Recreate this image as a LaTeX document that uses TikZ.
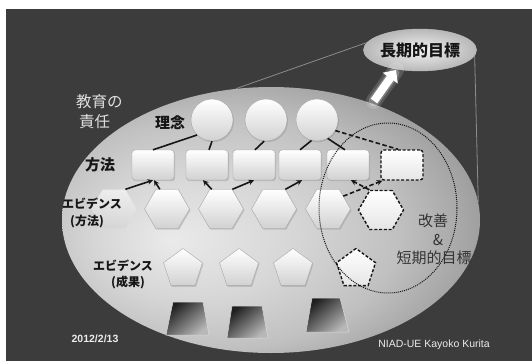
\documentclass[tikz,border=0pt]{standalone}
\usepackage{fontspec}
\newfontfamily\jpfont{Noto Sans CJK JP}
\newfontfamily\sansfnt{Liberation Sans}
\usetikzlibrary{shapes.geometric,arrows.meta,calc,shadows}
\definecolor{bgdark}{RGB}{60,60,60}
\definecolor{ink}{RGB}{22,22,22}
\definecolor{kz}{RGB}{52,52,52}
\definecolor{ea}{RGB}{234,234,234}
\definecolor{eb}{RGB}{214,214,214}
\definecolor{ec}{RGB}{192,192,192}
\definecolor{ed}{RGB}{168,168,168}
\definecolor{ee}{RGB}{140,140,140}
\definecolor{ef}{RGB}{132,132,132}
\pgfdeclareradialshading{bigshade}{\pgfpoint{-12bp}{-4bp}}{color(0bp)=(ea); color(12bp)=(eb); color(22bp)=(ec); color(28bp)=(ed); color(34bp)=(ee); color(50bp)=(ef)}
\tikzset{
 wsh/.style={top color=white, bottom color=black!18, draw=black!35, line width=0.4pt, inner sep=0pt,
   drop shadow={opacity=0.3, shadow xshift=1pt, shadow yshift=-1.2pt}},
 dsh/.style={top color=white, bottom color=black!10, draw=ink, line width=1.4pt, dash pattern=on 3pt off 1.8pt, inner sep=0pt},
 circ/.style={circle, minimum size=42pt},
 rbox/.style={rectangle, rounded corners=3pt, minimum width=42pt, minimum height=30pt},
 hexa/.style={regular polygon, regular polygon sides=6, minimum size=45pt},
 penta/.style={regular polygon, regular polygon sides=5, minimum size=41pt},
 conn/.style={draw=ink, line width=1.6pt},
 arr/.style={conn, -{Stealth[length=5.5pt,width=5.5pt]}},
 dconn/.style={conn, dash pattern=on 4.5pt off 2.5pt},
 darr/.style={dconn, -{Stealth[length=5.5pt,width=5.5pt]}},
 lbl/.style={text=ink, font=\jpfont\bfseries\fontsize{15}{17}\selectfont, inner sep=0pt},
 slbl/.style={text=ink, font=\jpfont\bfseries\fontsize{12}{14}\selectfont, inner sep=0pt},
 klbl/.style={text=kz, font=\jpfont\fontsize{15}{17}\selectfont, inner sep=0pt},
 wlbl/.style={text=black!12, font=\jpfont\fontsize{15.5}{17}\selectfont, inner sep=0pt, anchor=west},
 trap/.style={top color=black!88, bottom color=black!28, shading angle=40, draw=white!70!gray, line width=0.5pt},
 foot/.style={text=black!8, font=\sansfnt\fontsize{10.5}{12}\selectfont, inner sep=0pt}
}
\begin{document}
\begin{tikzpicture}[x=1pt,y=-1pt]
\useasboundingbox (0,0) rectangle (532,361);
\fill[white] (0,0) rectangle (532,361);
\fill[bgdark] (6,9) rectangle (532,361);

% big ellipse
\node[ellipse, shade, shading=bigshade, minimum width=418pt, minimum height=266pt, inner sep=0pt] (big) at (271,220) {};

% long-term goal
\node[ellipse, inner color=black!5, outer color=black!28, draw=black!25, minimum width=102pt, minimum height=42pt, inner sep=0pt,
  text=ink, font=\jpfont\bfseries\fontsize{16}{18}\selectfont] (goal) at (420,50) {長期的目標};
\draw[black!45, line width=0.8pt] (big.105) -- (goal.172);
\draw[black!45, line width=0.8pt] (goal.354) -- (big.5);

% white arrow with glow
\coordinate (wa1) at (374,101);
\coordinate (wa2) at (396,70);
\draw[white, opacity=0.15, line width=16pt, line cap=round] (wa1) -- (wa2);
\draw[white, opacity=0.25, line width=11pt, line cap=round] (wa1) -- ($(wa2)+(-2,3)$);
\draw[white, line width=8pt, -{Triangle[length=10pt,width=18pt]}] (wa1) -- (wa2);

% labels left
\node[wlbl] (kyo1) at (76,102) {教育の};
\node[wlbl] (kyo2) at (79,122) {責任};

% circles
\node[wsh, circ] (c1) at (212,120) {};
\node[wsh, circ] (c2) at (266,120) {};
\node[wsh, circ] (c3) at (317,120) {};

% rectangles
\node[wsh, rbox] (r1) at (153,165) {};
\node[wsh, rbox] (r2) at (207,165) {};
\node[wsh, rbox] (r3) at (254,165) {};
\node[wsh, rbox] (r4) at (300,165) {};
\node[wsh, rbox] (r5) at (348,165) {};
\node[dsh, rbox] (r6) at (402,165) {};

% hexagons
\node[hexa, top color=white, bottom color=black!18, fill opacity=0.6, draw=none, inner sep=0pt] (h1) at (114,209) {};
\node[wsh, hexa] (h2) at (167,209) {};
\node[wsh, hexa] (h3) at (221,209) {};
\node[wsh, hexa] (h4) at (274,209) {};
\node[wsh, hexa] (h5) at (328,209) {};
\node[dsh, hexa] (h6) at (381,210) {};

% pentagons
\node[wsh, penta] (p1) at (183,269) {};
\node[wsh, penta] (p2) at (239,269) {};
\node[wsh, penta] (p3) at (293,269) {};
\node[dsh, penta] (p4) at (356,269) {};

% trapezoids
\shadedraw[trap] (173,302) -- (203,302) -- (209,335) -- (166,335) -- cycle;
\shadedraw[trap] (232,306) -- (262,306) -- (268,338) -- (227,338) -- cycle;
\shadedraw[trap] (312,298) -- (340,298) -- (349,332) -- (306,332) -- cycle;

% connectors circle -> rect
\draw[conn] (c1.225) -- (r1.north);
\draw[conn] (c1.south) -- ($(r2.north)+(2,0)$);
\draw[conn] (c2.265) -- ($(r3.north)+(1,0)$);
\draw[conn] (c3.255) -- (r4.north);
\draw[conn] (c3.300) -- ($(r5.north)+(-3,0)$);
\draw[dconn] (c3.330) -- ($(r6.north)+(-4,0)$);

% arrows hex -> rect
\draw[arr] (h1.60) -- (r1.south);
\draw[arr] (h2.110) -- ($(r1.south)+(1,0)$);
\draw[arr] (h3.115) -- ($(r2.south)+(-4,0)$);
\draw[arr] (h3.60) -- (r3.south);
\draw[arr] (h4.60) -- ($(r4.south)+(2,0)$);
\draw[darr] (h5.40) -- ($(r6.south west)+(2,0)$);
\draw[darr] (h6.120) -- ($(r5.south)+(3,0)$);

% dotted ellipse
\draw[ink, densely dotted, line width=1pt] (388,208) ellipse [x radius=69, y radius=85];

% row labels
\node[lbl] (l1) at (170,123) {理念};
\node[lbl] (l2) at (100,165) {方法};
\node[slbl] (l3) at (92,204) {エビデンス};
\node[slbl] (l4) at (87,222) {(方法)};
\node[slbl] (l5) at (123,266) {エビデンス};
\node[slbl] (l6) at (128,282) {(成果)};

% improvement labels
\node[klbl] (k1) at (433,221) {改善};
\node[klbl] (k2) at (438,240) {\&};
\node[klbl] (k3) at (434,258) {短期的目標};

% footer
\node[foot, font=\sansfnt\bfseries\fontsize{10.5}{12}\selectfont] (date) at (95,339) {2012/2/13};
\node[foot] (auth) at (434,345) {NIAD-UE Kayoko Kurita};
\end{tikzpicture}
\end{document}
